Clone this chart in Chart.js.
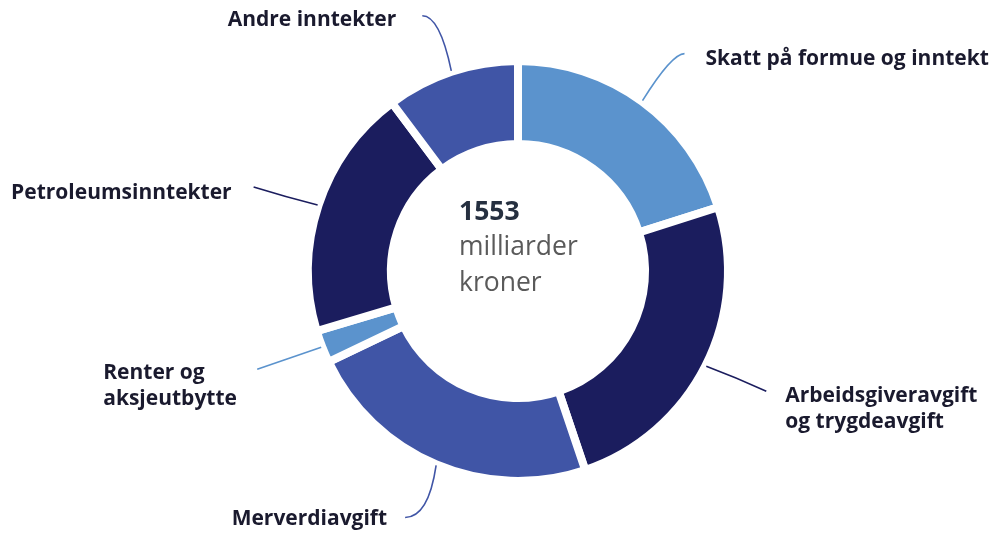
<!DOCTYPE html>
<html>
<head>
<meta charset="utf-8">
<script src="https://cdn.jsdelivr.net/npm/chart.js@4"></script>
<style>
  html, body { margin: 0; padding: 0; background: #fff; }
  #wrap { width: 994px; height: 537px; }
</style>
</head>
<body>
<div id="wrap"><canvas id="incomeChart" width="994" height="537"></canvas></div>
<script>
// Statens inntekter, milliarder kroner
const categories = [
  'Skatt på formue og inntekt',
  'Arbeidsgiveravgift og trygdeavgift',
  'Merverdiavgift',
  'Renter og aksjeutbytte',
  'Petroleumsinntekter',
  'Andre inntekter'
];
const values = [312, 384, 358, 39, 301, 159];
const labelLines = [
  ['Skatt på formue og inntekt'],
  ['Arbeidsgiveravgift', 'og trygdeavgift'],
  ['Merverdiavgift'],
  ['Renter og', 'aksjeutbytte'],
  ['Petroleumsinntekter'],
  ['Andre inntekter']
];
const centerUnit = ['milliarder', 'kroner'];

const colors = ['#5b93cd', '#1b1d5e', '#4055a6', '#5b93cd', '#1b1d5e', '#4055a6'];

// leader line end (relative to line start), curve control, text anchor (relative to line end)
const leaderLayout = [
  { dx: 42, dy: -47, cx: 0.7, cy: 1, tx: 21, ty: 5, align: 'left' },
  { dx: 60, dy: 25, cx: 0.5, cy: 0.45, tx: 19, ty: 5, align: 'left' },
  { dx: -31, dy: 52, cx: 0.25, cy: 1, tx: -18, ty: 2, align: 'right' },
  { dx: -64, dy: 22, cx: 0.5, cy: 0.5, tx: -154, ty: 4, align: 'left' },
  { dx: -64, dy: -18, cx: 0.5, cy: 0.45, tx: -22, ty: 6, align: 'right' },
  { dx: -29, dy: -55, cx: 0.4, cy: 1, tx: -26, ty: 4, align: 'right' }
];

const leaderPlugin = {
  id: 'leaders',
  afterDatasetsDraw(chart) {
    const { ctx } = chart;
    const arcs = chart.getDatasetMeta(0).data;
    ctx.save();
    arcs.forEach((arc, i) => {
      const L = leaderLayout[i];
      const mid = (arc.startAngle + arc.endAngle) / 2;
      const r = arc.outerRadius + 1;
      const sx = arc.x + Math.cos(mid) * r;
      const sy = arc.y + Math.sin(mid) * r;
      const ex = sx + L.dx, ey = sy + L.dy;
      ctx.strokeStyle = colors[i];
      ctx.lineWidth = 1.6;
      ctx.beginPath();
      ctx.moveTo(sx, sy);
      ctx.quadraticCurveTo(sx + L.dx * L.cx, sy + L.dy * L.cy, ex, ey);
      ctx.stroke();

      ctx.fillStyle = '#1a1a2e';
      ctx.font = 'bold 21px "Open Sans"';
      ctx.textAlign = L.align;
      ctx.textBaseline = 'middle';
      labelLines[i].forEach((line, k) => {
        ctx.fillText(line, ex + L.tx, ey + L.ty + k * 26);
      });
    });

    // centre text
    const a0 = arcs[0];
    const total = values.reduce((s, v) => s + v, 0);
    ctx.textAlign = 'left';
    ctx.textBaseline = 'middle';
    ctx.fillStyle = '#263040';
    ctx.font = 'bold 26.5px "Open Sans"';
    ctx.fillText(String(total), a0.x - 59, a0.y - 59);
    ctx.fillStyle = '#5a5a5a';
    ctx.font = '26.5px "Open Sans"';
    centerUnit.forEach((line, k) => {
      ctx.fillText(line, a0.x - 59, a0.y - 24 + k * 36);
    });
    ctx.restore();
  }
};

new Chart(document.getElementById('incomeChart'), {
  type: 'doughnut',
  data: {
    labels: categories,
    datasets: [{
      data: values,
      backgroundColor: colors,
      borderColor: '#ffffff',
      borderWidth: 8,
      borderJoinStyle: 'miter'
    }]
  },
  options: {
    responsive: false,
    animation: false,
    radius: 210,
    cutout: '60.5%',
    layout: { padding: { left: 42, right: 0, top: 61, bottom: 56 } },
    plugins: {
      legend: { display: false },
      tooltip: { enabled: false }
    }
  },
  plugins: [leaderPlugin]
});
</script>
</body>
</html>
